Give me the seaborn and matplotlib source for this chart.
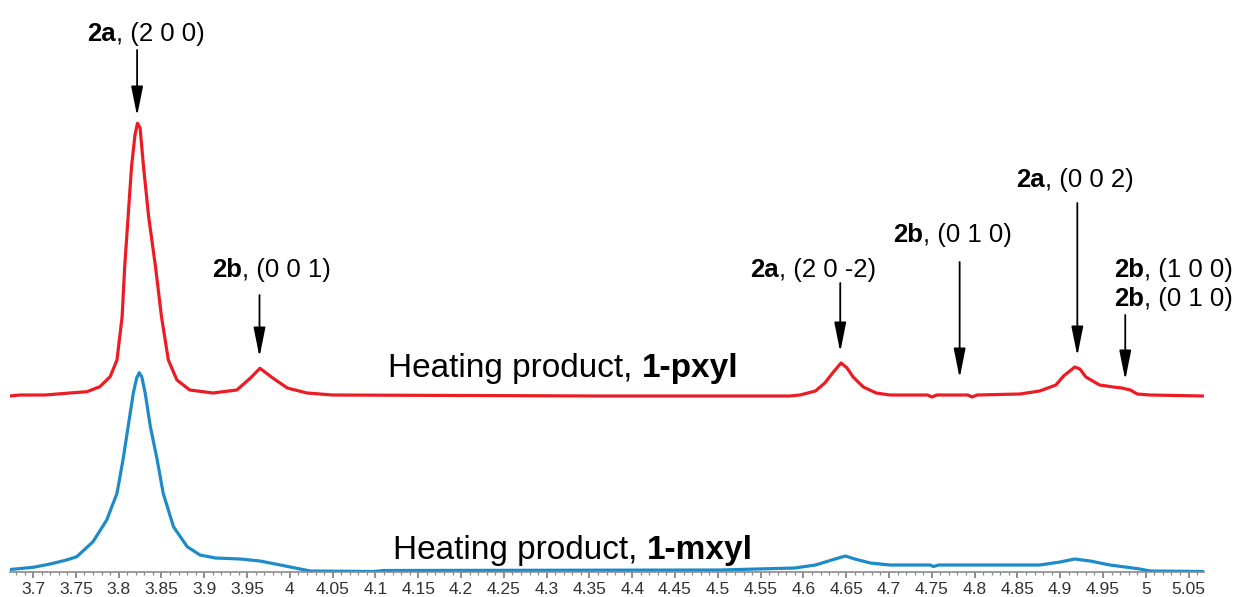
import matplotlib
matplotlib.use("Agg")
import matplotlib.pyplot as plt
from matplotlib.ticker import MultipleLocator, FuncFormatter
import numpy as np
import pandas as pd
import seaborn as sns

# ---- diffraction traces (position, intensity above own baseline) ----
pos_pxyl = [3.673, 3.685, 3.714, 3.743, 3.763, 3.778, 3.790, 3.798, 3.804, 3.807,
            3.811, 3.815, 3.819, 3.822, 3.825, 3.829, 3.835, 3.843, 3.850, 3.858,
            3.868, 3.883, 3.910, 3.938, 3.954, 3.965, 3.980, 3.997, 4.020, 4.050,
            4.362, 4.584, 4.596, 4.614, 4.625, 4.635, 4.644, 4.651, 4.658, 4.670,
            4.685, 4.701, 4.745, 4.750, 4.756, 4.775, 4.792, 4.797, 4.803, 4.853,
            4.876, 4.895, 4.904, 4.917, 4.923, 4.930, 4.946, 4.962, 4.972, 4.982,
            4.990, 5.005, 5.067]
int_pxyl = [-1, 0, 0, 2, 3.3, 8.3, 18.3, 35, 78.3, 128.3,
            178.3, 228.3, 260, 271.7, 267, 228.3, 178.3, 128.3, 78.3, 35,
            15, 5, 2, 5, 17, 26.7, 17, 7, 2, 0,
            -1, -1, 0, 4, 12, 23, 32, 27, 18, 8,
            2, 0, 0, -2, 0, 0, 0, -2, 0, 1,
            4, 10, 19, 28, 26, 18, 10, 8, 7, 5,
            1, 0, -1]

pos_mxyl = [3.673, 3.700, 3.720, 3.739, 3.751, 3.770, 3.786, 3.798, 3.805, 3.811,
            3.817, 3.821, 3.824, 3.827, 3.831, 3.837, 3.845, 3.852, 3.864, 3.880,
            3.895, 3.913, 3.942, 3.965, 3.989, 4.012, 4.024, 4.098, 4.110, 4.503,
            4.590, 4.614, 4.637, 4.649, 4.660, 4.678, 4.701, 4.748, 4.752, 4.758,
            4.876, 4.900, 4.917, 4.935, 4.958, 4.976, 4.993, 5.005, 5.067]
int_mxyl = [2.5, 4.7, 8, 12, 15.3, 30.3, 52, 78.7, 112, 145.3,
            178.7, 194, 199.3, 195, 178.7, 145.3, 112, 78.7, 45.3, 25.3,
            17, 14, 13, 11, 7, 3, 1, 0.5, 1.5, 2,
            4, 7, 13, 16, 13, 9, 7, 7, 5.5, 7,
            7, 10, 13, 11, 7, 5, 3, 1, 0.5]

pxyl_offset = 177          # vertical stacking of the upper trace
red, blue = "#ec1c24", "#1e8bc9"

sns.set_theme(style="white")
plt.rcParams["font.family"] = ["Liberation Sans", "DejaVu Sans"]

fig = plt.figure(figsize=(12.36, 5.97), dpi=100)
ax = fig.add_axes([10 / 1236, 25 / 597, 1194 / 1236, 572 / 597])

df_p = pd.DataFrame({"pos": pos_pxyl, "I": np.array(int_pxyl) + pxyl_offset})
df_m = pd.DataFrame({"pos": pos_mxyl, "I": int_mxyl})
sns.lineplot(data=df_m, x="pos", y="I", ax=ax, color=blue, lw=2.3,
             estimator=None, sort=False)
sns.lineplot(data=df_p, x="pos", y="I", ax=ax, color=red, lw=2.3,
             estimator=None, sort=False)

ax.set_xlim(3.673, 5.068)
ax.set_ylim(0, 572)
ax.set_xlabel("")
ax.set_ylabel("")
ax.set_yticks([])
for s in ("top", "left", "right"):
    ax.spines[s].set_visible(False)
ax.spines["bottom"].set_color("#8a8a8a")
ax.spines["bottom"].set_linewidth(1.2)

ax.xaxis.set_major_locator(MultipleLocator(0.05))
ax.xaxis.set_minor_locator(MultipleLocator(0.01))
ax.xaxis.set_major_formatter(FuncFormatter(lambda v, p: f"{v:.2f}".rstrip("0").rstrip(".")))
ax.tick_params(axis="x", which="major", direction="out", length=4.5, width=1.1,
               color="#707070", labelsize=12.5, labelcolor="#333333", pad=3, bottom=True)
ax.tick_params(axis="x", which="minor", direction="out", length=2.2, width=0.9,
               color="#8a8a8a", bottom=True)


def mixed(x, y, first, second, size, first_bold=True, gap=0.0):
    w1 = "bold" if first_bold else "normal"
    w2 = "normal" if first_bold else "bold"
    t = ax.text(x, y, first, fontsize=size, fontweight=w1, ha="left",
                va="baseline", color="black")
    ax.annotate(second, xy=(1, 0), xycoords=t, xytext=(gap, 0),
                textcoords="offset points", fontsize=size, fontweight=w2,
                ha="left", va="bottom", color="black")


# reflection labels
peak_labels = [
    (3.763, 531, "2a", ", (2 0 0)"),
    (3.909, 295, "2b", ", (0 0 1)"),
    (4.5376, 295, "2a", ", (2 0 -2)"),
    (4.7047, 330, "2b", ", (0 1 0)"),
    (4.8484, 385, "2a", ", (0 0 2)"),
    (4.9629, 295, "2b", ", (1 0 0)"),
    (4.9629, 266, "2b", ", (0 1 0)"),
]
for x, y, b, r in peak_labels:
    mixed(x, y, b, r, 18.5)

# arrows: (position, tail height, tip height)
arrows = [
    (3.8215, 522, 456),
    (3.9645, 277, 215),
    (4.643, 289, 220),
    (4.7825, 310, 194),
    (4.920, 369, 216),
    (4.976, 257, 192),
]
for x, y0, y1 in arrows:
    ax.annotate("", xy=(x, y1), xytext=(x, y0),
                arrowprops=dict(arrowstyle="-|>,head_length=0.9,head_width=0.18",
                                color="black", lw=1.3, shrinkA=0, shrinkB=0,
                                mutation_scale=20))

mixed(4.1147, 195, "Heating product,", "1-pxyl", 24, first_bold=False, gap=6.5)
mixed(4.1206, 13, "Heating product,", "1-mxyl", 24, first_bold=False, gap=6.5)

fig.savefig("out.png", dpi=100)
